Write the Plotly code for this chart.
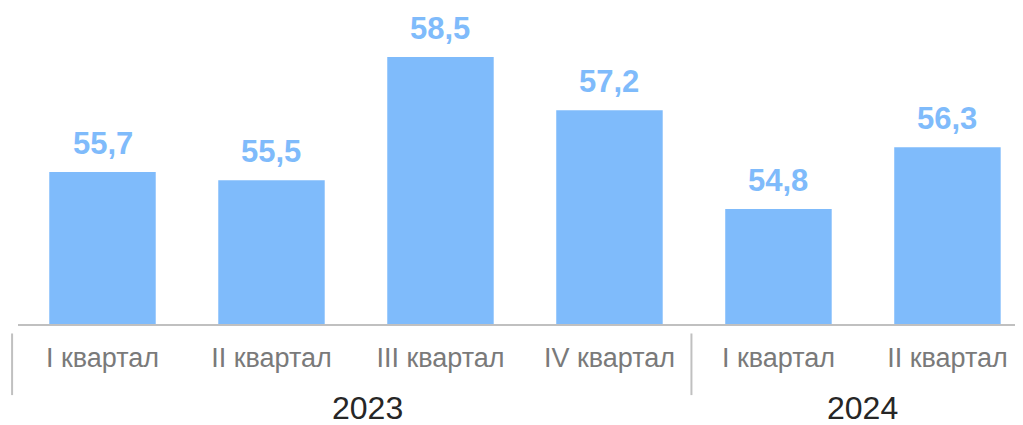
import plotly.graph_objects as go

quarters = ["I квартал", "II квартал", "III квартал", "IV квартал", "I квартал", "II квартал"]
years = ["2023", "2023", "2023", "2023", "2024", "2024"]
values = [55.7, 55.5, 58.5, 57.2, 54.8, 56.3]

BAR = "#7FBBFB"
FONT = "Liberation Sans, Arial, sans-serif"
x = list(range(len(values)))
X0, X1 = -0.5, 5.447
Y0, Y1 = 52.0, 59.69

fig = go.Figure()
fig.add_trace(go.Bar(x=x, y=values, width=0.63, marker=dict(color=BAR, line=dict(width=0)),
                     hoverinfo="skip"))

def px(v):
    return (v - X0) / (X1 - X0)

annotations = []
for xi, v in zip(x, values):
    annotations.append(dict(x=xi, y=v, xref="x", yref="y", text=f"{v:.1f}".replace(".", ","),
                            showarrow=False, yanchor="bottom", yshift=9,
                            font=dict(family=FONT, size=31, color=BAR, weight="bold")))
# year group labels
groups = []
for y in years:
    if y not in groups:
        groups.append(y)
for g in groups:
    idx = [i for i, y in enumerate(years) if y == g]
    c = sum(idx) / len(idx)
    if g == "2023":
        c += 0.07
    annotations.append(dict(x=px(c), y=-0.267, xref="paper", yref="paper", text=g,
                            showarrow=False, xanchor="center", yanchor="middle",
                            font=dict(family=FONT, size=32, color="#262626")))

shapes = []
# dividers at group boundaries
bounds = [-0.535]
for i in range(1, len(years)):
    if years[i] != years[i - 1]:
        bounds.append(i - 0.515)
for b in bounds:
    shapes.append(dict(type="line", xref="paper", yref="paper", x0=px(b), x1=px(b),
                       y0=-0.03, y1=-0.225, line=dict(color="#C0C0C0", width=2)))

fig.update_layout(
    width=1015, height=417,
    margin=dict(l=10, r=0, t=0, b=101),
    plot_bgcolor="white", paper_bgcolor="white",
    showlegend=False,
    annotations=annotations, shapes=shapes,
    xaxis=dict(range=[X0, X1], tickvals=x, ticktext=quarters, showgrid=False, zeroline=False,
               showline=True, linecolor="#C0C0C0", linewidth=2, ticks="",
               tickfont=dict(family=FONT, size=27, color="#7A7A7A"), ticklabelstandoff=9),
    yaxis=dict(range=[Y0, Y1], visible=False),
)

fig.write_html("out.html")
